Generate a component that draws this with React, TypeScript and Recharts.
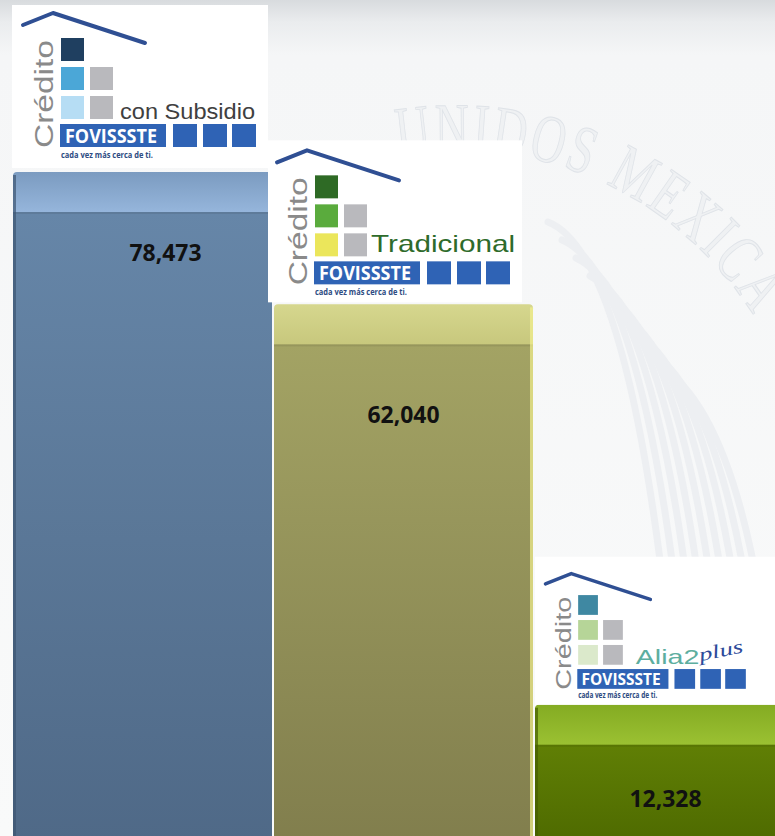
import { Bar, BarChart, LabelList, XAxis, YAxis } from 'recharts'

// credit programs (FOVISSSTE) and number of credits granted
const categories = ['Crédito con Subsidio', 'Crédito Tradicional', 'Crédito Alia2plus']
const programTitles = ['con Subsidio', 'Tradicional', 'Alia2']
const credits = [78473, 62040, 12328]

const data = categories.map((name, i) => ({ name, title: programTitles[i], credits: credits[i] }))

const CAP = 40

const barColors = [
  { cap: ['#7b9bc0', '#98b8de'], body: ['#6686a8', '#4f6987'], edge: '#3d5672', edgeSide: 'left' },
  { cap: ['#d6d78e', '#c6c67b'], body: ['#a3a364', '#817e4d'], edge: '#f2f08e', edgeSide: 'right' },
  { cap: ['#84ab22', '#9dc334'], body: ['#607f05', '#4e6a00'], edge: '#465e00', edgeSide: 'left' },
]

const logoBoxes = [
  { dx: -1, w: 256, h: 163, gap: 4, s: 1, ox: 0, oy: 0 },
  { dx: -6, w: 254, h: 162, gap: 2, s: 1, ox: -2, oy: 2 },
  { dx: 0, w: 250, h: 148, gap: 0, s: 0.86, ox: 1, oy: 10 },
]

const logoStyles = [
  { squares: ['#1f3f60', '#4ba7d7', '#b6ddf4'], title: '#404040', tx: 108, ty: 114, tlen: 135, tsize: 22 },
  { squares: ['#2e6a25', '#5aab3d', '#ebe65b'], title: '#2e6b2b', tx: 105, ty: 110, tlen: 144, tsize: 24 },
  { squares: ['#3f88a2', '#b6d598', '#dbe9cb'], title: '#5dae9f', tx: 116, ty: 113, tlen: 74, tsize: 24 },
]

const labelOffsets = [
  { dx: 23, dy: 49 },
  { dx: 0, dy: 79 },
  { dx: 1, dy: 62 },
]

// faint seal in the background
const sealText = 'UNIDOS MEXICANOS'
const sealWidths: Record<string, number> = { U: 0.722, N: 0.722, I: 0.333, D: 0.722, O: 0.722, S: 0.556, M: 0.889, E: 0.611, X: 0.722, C: 0.667, A: 0.722, ' ': 0.3 }

const BLUE = '#2f63b5'

function Logo({ x, y, index, title }: { x: number; y: number; index: number; title: string }) {
  const box = logoBoxes[index]
  const st = logoStyles[index]
  const left = x + box.dx
  const top = y - CAP - box.gap - box.h
  return (
    <g>
      <rect x={left} y={top} width={box.w} height={box.h} fill="#ffffff" />
      <g transform={`translate(${left + box.ox}, ${top + box.oy}) scale(${box.s})`}>
        <path d="M11 20 L41 8 L133 38" fill="none" stroke="#2f4f93" strokeWidth={4} strokeLinecap="round" strokeLinejoin="round" />
        <text x={41} y={143} transform="rotate(-90 41 143)" fontFamily="'Liberation Sans', Arial, sans-serif" fontSize={26} fill="#8a8a8a" textLength={108} lengthAdjust="spacingAndGlyphs">Crédito</text>
        {st.squares.map((c, r) => <rect key={r} x={49} y={33 + r * 29} width={23} height={23} fill={c} />)}
        <rect x={78} y={62} width={23} height={23} fill="#b9b9bd" />
        <rect x={78} y={91} width={23} height={23} fill="#b9b9bd" />
        <text x={st.tx} y={st.ty} fontFamily="'Liberation Sans', Arial, sans-serif" fontSize={st.tsize} fill={st.title} textLength={st.tlen} lengthAdjust="spacingAndGlyphs">{title}</text>
        {index === 2 && (
          <text x={191} y={110} transform="rotate(-12 191 110)" fontFamily="'Liberation Serif', serif" fontStyle="italic" fontSize={22} fill="#2c4a9a" textLength={52} lengthAdjust="spacingAndGlyphs">plus</text>
        )}
        <rect x={48} y={119} width={106} height={23} fill={BLUE} />
        <text x={53} y={138} fontFamily="'Open Sans', sans-serif" fontWeight={700} fontSize={19} fill="#ffffff" textLength={92} lengthAdjust="spacingAndGlyphs">FOVISSSTE</text>
        {[161, 191, 220].map((sx) => <rect key={sx} x={sx} y={119} width={24} height={23} fill={BLUE} />)}
        <text x={49} y={153} fontFamily="'Open Sans', sans-serif" fontWeight={700} fontSize={9.5} fill="#2d4b82" textLength={92} lengthAdjust="spacingAndGlyphs">cada vez más cerca de ti.</text>
      </g>
    </g>
  )
}

function CreditBar(props: any) {
  const { x, y, width, height, index, payload } = props
  const c = barColors[index]
  const id = `credbar${index}`
  const edgeX = c.edgeSide === 'left' ? x : x + width - 3
  return (
    <g>
      <defs>
        <linearGradient id={`${id}cap`} x1="0" y1="0" x2="0" y2="1">
          <stop offset="0" stopColor={c.cap[0]} />
          <stop offset="1" stopColor={c.cap[1]} />
        </linearGradient>
        <linearGradient id={`${id}body`} x1="0" y1="0" x2="0" y2="1">
          <stop offset="0" stopColor={c.body[0]} />
          <stop offset="1" stopColor={c.body[1]} />
        </linearGradient>
      </defs>
      <rect x={x} y={y - CAP} width={width} height={CAP + 4} rx={4} fill={`url(#${id}cap)`} />
      <rect x={x} y={y} width={width} height={height} fill={`url(#${id}body)`} />
      <rect x={x} y={y} width={width} height={2} fill="#000" opacity={0.08} />
      <rect x={edgeX} y={y - CAP + 3} width={3} height={height + CAP} fill={c.edge} opacity={0.7} />
      <Logo x={x} y={y} index={index} title={payload.title} />
    </g>
  )
}

function ValueLabel(props: any) {
  const vb = props.viewBox || props
  const { x, y, width } = vb
  const off = labelOffsets[props.index] || { dx: 0, dy: 60 }
  return (
    <text x={x + width / 2 + off.dx} y={y + off.dy} textAnchor="middle" fontFamily="'Open Sans', sans-serif" fontWeight={700} fontSize={24} fill="#111111" textLength={72} lengthAdjust="spacingAndGlyphs">
      {Number(props.value).toLocaleString('en-US')}
    </text>
  )
}

function Watermark() {
  const cx = 455
  const cy = 502
  const r = 352
  const size = 68
  const sx = 0.69
  let a = Math.asin((432 - cx) / r) - (sealWidths.U * size * sx) / r
  const letters = sealText.split('').map((ch, i) => {
    const w = (sealWidths[ch] || 0.7) * size * sx
    const mid = a + w / 2 / r
    a += (w + 3) / r
    if (ch === ' ') return null
    const px = cx + r * Math.sin(mid)
    const py = cy - r * Math.cos(mid)
    // letters that fall off the page are not drawn
    if (px > 745) return null
    const deg = (mid * 180) / Math.PI
    return (
      <text key={i} transform={`translate(${px.toFixed(1)}, ${py.toFixed(1)}) rotate(${deg.toFixed(1)}) scale(${sx}, 1)`} textAnchor="middle" fontFamily="'Liberation Serif', serif" fontSize={size} fill="#eff1f3" stroke="#dfe3e8" strokeWidth={1}>
        {ch}
      </text>
    )
  })
  const feathers = [0, 1, 2, 3, 4, 5, 6, 7, 8]
  return (
    <svg width={775} height={836} style={{ position: 'absolute', left: 0, top: 0 }}>
      {feathers.map((k) => (
        <path key={k} d={`M ${548 + k * 14} ${222 + k * 18} Q ${620 + k * 14} ${250 + k * 20} ${660 + k * 13} ${560 + k * 8}`} fill="none" stroke="#edeff2" strokeWidth={7} strokeLinecap="round" />
      ))}
      {letters}
    </svg>
  )
}

export default function App() {
  return (
    <div style={{ position: 'absolute', left: 0, top: 0, width: 775, height: 836, overflow: 'hidden', background: 'linear-gradient(180deg, #d8dbde 0px, #eaecee 22px, #f5f6f7 55px, #f9fafa 100%)' }}>
      <Watermark />
      <div style={{ position: 'absolute', left: 0, top: 0 }}>
        <BarChart width={800} height={850} data={data} margin={{ top: 212, right: 5, bottom: 6, left: 12 }} barCategoryGap={1}>
          <XAxis dataKey="name" hide />
          <YAxis hide domain={[0, 'dataMax']} />
          <Bar dataKey="credits" shape={<CreditBar />} isAnimationActive={false}>
            <LabelList dataKey="credits" content={<ValueLabel />} />
          </Bar>
        </BarChart>
      </div>
    </div>
  )
}
